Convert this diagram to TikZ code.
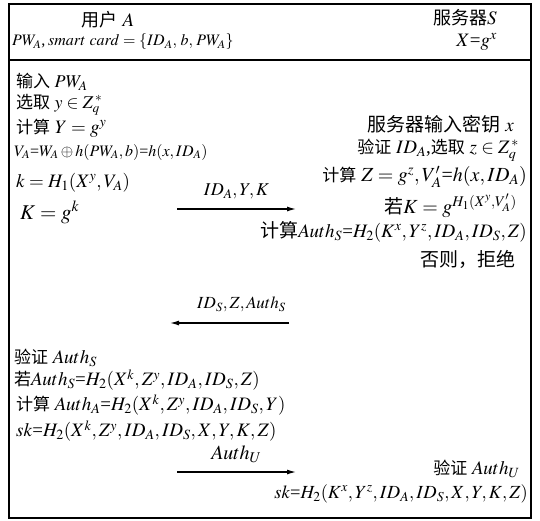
\documentclass[tikz,border=0pt]{standalone}
\usepackage{mathptmx}
\usepackage{fontspec}
\setmainfont{Liberation Serif}
\newfontfamily\cjk{Noto Sans CJK SC}
\usetikzlibrary{arrows.meta}
\newcommand{\hz}[1]{{\cjk\fontsize{17}{19}\selectfont #1}}
\tikzset{
  lt/.style={anchor=west, inner sep=0pt, font=\fontsize{19}{21}\selectfont},
  rt/.style={anchor=east, inner sep=0pt, font=\fontsize{19}{21}\selectfont},
  sm/.style={font=\fontsize{16}{18}\selectfont},
  msg/.style={-{Latex[length=9pt,width=5pt]}, line width=1.2pt},
}
\begin{document}
\begin{tikzpicture}[x=1pt,y=-1pt]
  \useasboundingbox (0,0) rectangle (540,520);
  \coordinate (NW) at (9,4);
  \coordinate (SE) at (531,518);
  \draw[line width=1.2pt] (NW) rectangle (SE);
  \draw[line width=1.2pt] (9,60) -- (531,60);
  % Header
  \node[inner sep=0pt, font=\fontsize{19}{21}\selectfont] (user) at (108,20) {{\cjk\fontsize{18}{20}\selectfont 用户} $A$};
  \node[lt, font=\fontsize{16}{18}\selectfont] (card) at (12,42) {$PW_A$,\,$smart\ card = \{ID_A,\, b,\, PW_A\}$};
  \node[rt] (server) at (497,18) {{\cjk\fontsize{18}{20}\selectfont 服务器}$S$};
  \node[rt] (pub) at (497,42) {$X$=$g^x$};
  % User side
  \node[lt, font=\fontsize{18}{20}\selectfont] (l1) at (16,82) {\hz{输入} $PW_{A}$};
  \node[lt, font=\fontsize{18}{20}\selectfont] (l2) at (16,105) {\hz{选取} $y\in Z_q^{\,*}$};
  \node[lt] (l3) at (16,128) {\hz{计算} $Y = g^{y}$};
  \node[lt, sm] (l4) at (14,152) {$V_A$=$W_A\oplus h(PW_A,b)$=$h(x,ID_A)$};
  \node[lt] (l5) at (16,183) {$k = H_1(X^{y}, V_A)$};
  \node[lt, font=\fontsize{21}{23}\selectfont] (l6) at (20,212) {$K = g^k$};
  % Server side
  \node[rt] (r1) at (514,124) {{\cjk 服务器输入密钥} $x$};
  \node[rt] (r2) at (519,150) {\hz{验证} $ID_A$,\hz{选取} $z\in Z_q^{\,*}$};
  \node[rt, font=\fontsize{20}{22}\selectfont] (r3) at (527,177) {\hz{计算} $Z = g^z,V_A'$=$h(x,ID_A)$};
  \node[rt, font=\fontsize{20}{22}\selectfont] (r4) at (517,206) {{\cjk\fontsize{19}{21}\selectfont 若}$K = g^{H_1(X^y,V_A')}$};
  \node[rt] (r5) at (527,232) {{\cjk 计算}$Auth_S$=$H_2(K^x,Y^z,ID_A,ID_S,Z)$};
  \node[rt] (r6) at (516,259) {{\cjk 否则，拒绝}};
  % Messages
  \coordinate (m1a) at (177,209);
  \coordinate (m1b) at (296,209);
  \draw[msg] (m1a) -- node[above=6pt, font=\fontsize{18}{20}\selectfont] (lab1) {$ID_A,Y,K$} (m1b);
  \coordinate (m2a) at (289,323);
  \coordinate (m2b) at (170,323);
  \draw[msg] (m2a) -- node[above=7pt, xshift=12pt, font=\fontsize{17}{19}\selectfont] (lab2) {$ID_S,Z,Auth_S$} (m2b);
  \coordinate (m3a) at (177,472);
  \coordinate (m3b) at (296,472);
  \draw[msg] (m3a) -- node[above=5pt, font=\fontsize{20}{22}\selectfont] (lab3) {$Auth_U$} (m3b);
  % User checks
  \node[lt] (l7) at (14,358) {\hz{验证} $Auth_S$};
  \node[lt] (l8) at (14,380) {\hz{若}$Auth_S$=$H_2(X^k,Z^y,ID_A,ID_S,Z)$};
  \node[lt] (l9) at (16,405) {\hz{计算} $Auth_A$=$H_2(X^k,Z^y,ID_A,ID_S,Y)$};
  \node[lt] (l10) at (16,431) {$sk$=$H_2(X^k,Z^y,ID_A,ID_S,X,Y,K,Z)$};
  % Server checks
  \node[rt] (r7) at (520,469) {\hz{验证} $Auth_U$};
  \node[rt, font=\fontsize{18.5}{21}\selectfont] (r8) at (528,494) {$sk$=$H_2(K^x,Y^z,ID_A,ID_S,X,Y,K,Z)$};
\end{tikzpicture}
\end{document}
